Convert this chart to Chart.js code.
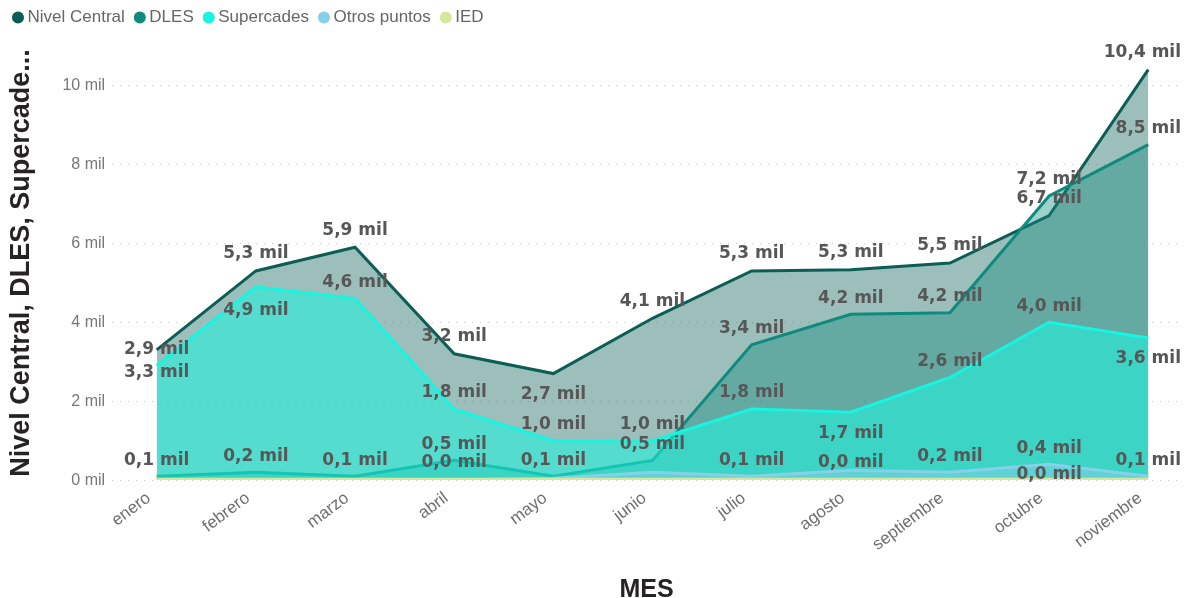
<!DOCTYPE html>
<html>
<head>
<meta charset="utf-8">
<script src="https://cdn.jsdelivr.net/npm/chart.js@4.4.1/dist/chart.umd.min.js"></script>
<style>
  html, body { margin: 0; padding: 0; background: #ffffff; }
  #wrap { width: 1186px; height: 598px; }
</style>
</head>
<body>
<div id="wrap"><canvas id="AreaChart" width="1186" height="598"></canvas></div>
<script>
// valores en miles
const meses = ['enero', 'febrero', 'marzo', 'abril', 'mayo', 'junio', 'julio', 'agosto', 'septiembre', 'octubre', 'noviembre'];
const nivelCentral = [3.3, 5.3, 5.9, 3.2, 2.7, 4.1, 5.3, 5.33, 5.5, 6.7, 10.4];
const dles = [0.1, 0.2, 0.1, 0.5, 0.1, 0.5, 3.43, 4.2, 4.24, 7.2, 8.5];
const supercades = [2.9, 4.9, 4.6, 1.8, 1.0, 1.0, 1.8, 1.72, 2.6, 4.0, 3.6];
const otrosPuntos = [0, 0, 0, 0, 0.05, 0.2, 0.1, 0.25, 0.2, 0.4, 0.1];
const ied = [0.02, 0.02, 0.02, 0.02, 0.02, 0.02, 0.02, 0.02, 0.02, 0.02, 0.02];
const yTicks = [0, 2, 4, 6, 8, 10];

function puntos(arr) {
    return arr.map((v, i) => ({ x: i, y: v }));
}

// etiquetas de datos tipo Power BI
const etiquetas = {
    id: 'etiquetas',
    afterDatasetsDraw(chart, args, opts) {
        const ctx = chart.ctx;
        ctx.save();
        ctx.font = 'bold 17px "DejaVu Sans"';
        ctx.fillStyle = '#575757';
        ctx.textAlign = 'center';
        ctx.textBaseline = 'middle';
        chart.data.datasets.forEach((ds, di) => {
            const cfg = opts.series[ds.label];
            if (!cfg) return;
            const meta = chart.getDatasetMeta(di);
            meta.data.forEach((pt, i) => {
                if (cfg.show && !cfg.show.includes(i)) return;
                const dy = (cfg.dy && cfg.dy[i] !== undefined) ? cfg.dy[i] : cfg.base;
                const text = ds.data[i].y.toFixed(1).replace('.', ',') + ' mil';
                const w = ctx.measureText(text).width;
                const x = Math.min(pt.x, chart.width - 5 - w / 2);
                ctx.fillText(text, x, pt.y + dy);
            });
        });
        ctx.restore();
    }
};

// un poco mas de aire debajo de la leyenda
const espacioLeyenda = {
    id: 'espacioLeyenda',
    beforeInit(chart) {
        const fitValue = chart.legend.fit;
        chart.legend.fit = function fit() {
            fitValue.bind(chart.legend)();
            this.height += 10;
        };
    }
};

const config_area = {
    type: 'line',
    data: {
        datasets: [
            {
                label: 'IED',
                data: puntos(ied),
                borderColor: '#d6e69a',
                backgroundColor: 'rgba(214,230,154,0.6)',
                fill: 'origin'
            },
            {
                label: 'Otros puntos',
                data: puntos(otrosPuntos),
                borderColor: '#86d0e8',
                backgroundColor: 'rgba(134,208,232,0.5)',
                fill: 'origin'
            },
            {
                label: 'Supercades',
                data: puntos(supercades),
                borderColor: '#16f5e2',
                backgroundColor: 'rgba(25,245,224,0.55)',
                fill: 'origin'
            },
            {
                label: 'DLES',
                data: puntos(dles),
                borderColor: '#0e8a7e',
                backgroundColor: 'rgba(15,139,127,0.4)',
                fill: 'origin'
            },
            {
                label: 'Nivel Central',
                data: puntos(nivelCentral),
                borderColor: '#0b5e55',
                backgroundColor: 'rgba(11,94,85,0.4)',
                fill: 'origin'
            }
        ]
    },
    options: {
        responsive: false,
        animation: false,
        layout: {
            padding: { left: 3, right: 5, top: -5, bottom: 0 }
        },
        elements: {
            point: { radius: 0, hoverRadius: 0 },
            line: { borderWidth: 3, tension: 0 }
        },
        plugins: {
            tooltip: { enabled: false },
            legend: {
                position: 'top',
                align: 'start',
                reverse: true,
                labels: {
                    usePointStyle: true,
                    pointStyle: 'circle',
                    boxWidth: 2,
                    boxHeight: 8.5,
                    padding: 14,
                    color: '#666666',
                    font: { family: 'Liberation Sans', size: 17 },
                    generateLabels: function (chart) {
                        const items = Chart.defaults.plugins.legend.labels.generateLabels(chart);
                        items.forEach(item => {
                            const ds = chart.data.datasets[item.datasetIndex];
                            item.fillStyle = ds.borderColor;
                            item.strokeStyle = ds.borderColor;
                            item.lineWidth = 0;
                        });
                        return items;
                    }
                }
            },
            etiquetas: {
                series: {
                    'Nivel Central': { base: -17, dy: { 0: 23, 4: 21 } },
                    'DLES': { base: -16 },
                    'Supercades': { base: -16, dy: { 1: 24, 7: 21, 10: 21 } },
                    'Otros puntos': { base: -16, show: [6, 8, 9, 10] },
                    'IED': { base: -17, show: [3, 7, 9], dy: { 9: -5 } }
                }
            }
        },
        scales: {
            x: {
                type: 'linear',
                min: -0.45,
                max: 10.33,
                afterBuildTicks: function (scale) {
                    scale.ticks = meses.map((m, i) => ({ value: i }));
                },
                grid: { display: false },
                border: { display: false },
                ticks: {
                    autoSkip: false,
                    maxRotation: 37,
                    minRotation: 37,
                    padding: 0,
                    labelOffset: -8,
                    color: '#6e6e6e',
                    font: { family: 'Liberation Sans', size: 17 },
                    callback: function (value) {
                        return meses[value];
                    }
                },
                title: {
                    display: true,
                    text: 'MES',
                    color: '#252423',
                    font: { family: 'Liberation Sans', size: 25, weight: 'bold' },
                    padding: { top: 20, bottom: -7 }
                }
            },
            y: {
                min: 0,
                max: 11,
                afterBuildTicks: function (scale) {
                    scale.ticks = yTicks.map(v => ({ value: v }));
                },
                grid: {
                    color: '#c8c8c8',
                    lineWidth: 1,
                    drawTicks: false
                },
                border: { display: false, dash: [1, 7] },
                ticks: {
                    padding: 7,
                    color: '#777777',
                    font: { family: 'Liberation Sans', size: 16 },
                    callback: function (value) {
                        return value + ' mil';
                    }
                },
                title: {
                    display: true,
                    text: 'Nivel Central, DLES, Supercade...',
                    color: '#252423',
                    font: { family: 'Liberation Sans', size: 27, weight: 'bold' },
                    padding: { top: 2, bottom: 18 }
                }
            }
        }
    },
    plugins: [etiquetas, espacioLeyenda]
};

var AreaChart = new Chart(
    document.getElementById('AreaChart'),
    config_area
);
</script>
</body>
</html>
